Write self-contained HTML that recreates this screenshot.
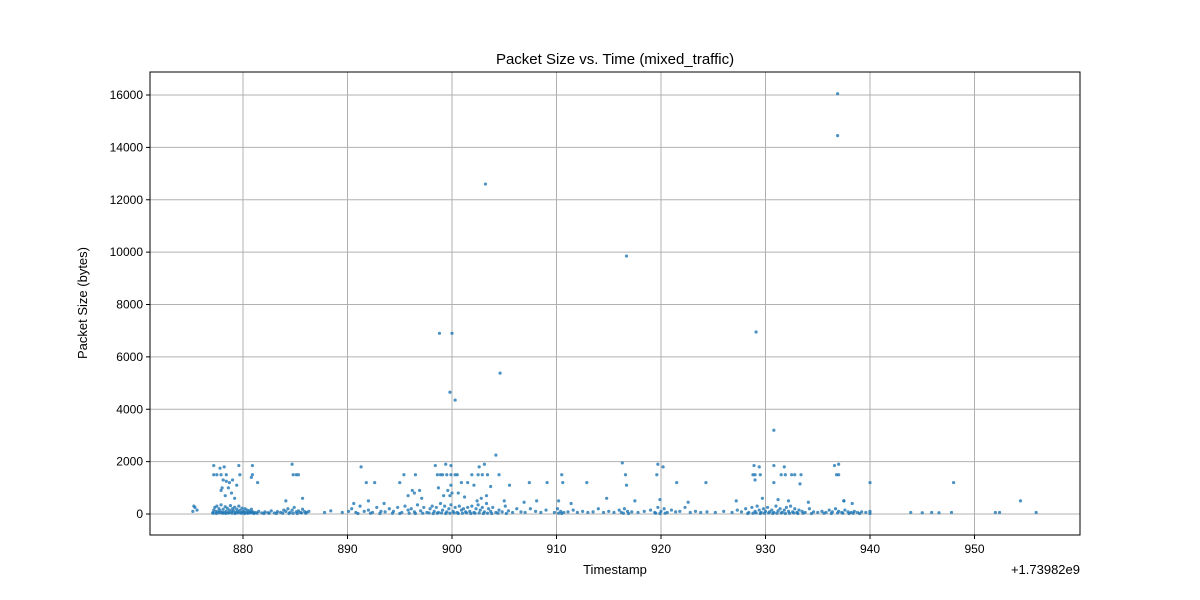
<!DOCTYPE html>
<html><head><meta charset="utf-8"><style>
body{margin:0;background:#fff;}
svg{display:block;font-family:"Liberation Sans","DejaVu Sans",sans-serif;}
</style></head><body>
<svg id="chart" width="1200" height="600">
<rect x="0" y="0" width="1200" height="600" fill="#fff"/>
<g id="grid"></g><g id="pts"></g><g id="axes"></g>
<text x="615" y="64" text-anchor="middle" font-size="15">Packet Size vs. Time (mixed_traffic)</text>
<text x="615" y="574" text-anchor="middle" font-size="13">Timestamp</text>
<text x="1080" y="574" text-anchor="end" font-size="13">+1.73982e9</text>
<text transform="translate(87,303) rotate(-90)" text-anchor="middle" font-size="13">Packet Size (bytes)</text>
</svg>
<script>
const xTicks=[880,890,900,910,920,930,940,950];
const yTicks=[0,2000,4000,6000,8000,10000,12000,14000,16000];
const outlierTimes=[936.9,936.9,903.2,916.7,898.8,900.0,929.1,899.8,900.3,904.6,930.8,904.2];
const outlierSizes=[16050,14450,12600,9850,6900,6900,6950,4650,4350,5380,3200,2250];
const topTimes=[877.2,877.8,878.2,879.6,880.9,884.7,891.3,898.4,899.4,899.9,
902.6,903.1,916.3,919.7,920.2,928.9,929.4,930.8,931.8,936.6,
937.0];
const topSizes=[1850,1750,1800,1850,1850,1900,1800,1850,1900,1850,
1800,1900,1950,1900,1800,1850,1800,1850,1800,1850,
1900];
const rowTimes=[877.2,877.5,877.9,878.4,879.7,880.9,884.8,885.1,885.3,
895.4,896.5,898.6,898.9,899.1,899.5,899.9,900.3,900.5,
901.9,902.5,902.9,903.4,904.5,910.5,916.6,919.6,928.8,
929.0,929.5,931.5,931.9,932.5,932.8,933.4,936.8,937.0];
const rowSizes=[1500,1500,1500,1500,1500,1500,1500,1500,1500,
1500,1500,1500,1500,1500,1500,1500,1500,1500,
1500,1500,1500,1500,1500,1500,1500,1500,1500,
1500,1500,1500,1500,1500,1500,1500,1500,1500];
const midTimes=[878.1,878.4,878.7,879.0,877.9,878.6,879.4,880.8,881.4,891.8,
892.6,895.0,896.9,898.7,899.9,900.9,901.5,902.1,903.7,905.5,
907.4,909.1,910.6,912.9,916.7,921.5,924.3,929.0,930.8,933.3,
940.0,948.0,878.3,878.9,879.2,884.1,885.7,890.6,892.0,893.5,
895.8,896.4,897.1,899.2,900.6,901.2,902.4,903.3,905.0,906.9,
908.1,910.2,911.4,914.8,917.5,919.9,922.6,927.2,929.7,931.2,
932.2,934.1,937.5,938.3,899.6,900.0,899.8,878.0,902.8,896.2];
const midSizes=[1300,1250,1200,1300,900,1000,1100,1400,1200,1200,
1200,1200,900,1000,1100,1200,1200,1100,1050,1100,
1200,1200,1200,1200,1100,1200,1200,1300,1200,1150,
1200,1200,700,800,600,500,600,400,500,400,
700,800,600,700,800,650,500,700,500,450,
500,500,400,600,500,550,450,500,600,550,
500,450,500,400,900,800,700,1000,600,900];
const lowTimes=[877.1,877.2,877.3,877.4,877.5,877.6,877.7,877.8,877.9,878.0,
878.1,878.2,878.3,878.4,878.5,878.6,878.7,878.8,878.9,879.0,
879.1,879.2,879.3,879.4,879.5,879.6,879.7,879.8,879.9,880.0,
880.1,880.2,880.3,880.4,880.5,880.6,880.7,880.8,880.9,881.0,
881.2,881.5,881.8,882.1,882.4,882.7,883.0,883.3,883.6,883.9,
884.1,884.3,884.5,884.7,884.9,885.1,885.3,885.5,885.7,885.9,
886.1,886.3,875.2,875.4,875.6,875.3,887.8,888.4,889.5,890.1,
890.4,890.8,891.2,891.6,892.0,892.4,892.8,893.2,893.6,894.0,
894.4,894.8,895.2,895.5,895.8,896.1,896.4,896.7,897.0,897.3,
897.6,897.9,898.1,898.3,898.5,898.7,898.9,899.1,899.3,899.5,
899.7,899.9,900.1,900.3,900.5,900.7,900.9,901.1,901.3,901.5,
901.7,901.9,902.1,902.3,902.5,902.7,902.9,903.1,903.3,903.5,
903.7,903.9,904.2,904.5,904.8,905.1,905.4,905.8,906.2,906.6,
907.0,907.5,908.0,908.5,909.0,909.8,910.1,910.4,910.7,911.1,
911.6,912.0,912.5,913.0,913.5,914.0,914.5,915.0,915.5,916.0,
916.2,916.5,916.8,917.2,917.8,918.4,919.0,919.4,919.7,920.0,
920.3,920.6,921.0,921.4,921.8,922.3,922.8,923.3,923.8,924.4,
925.2,926.0,926.8,927.3,927.7,928.1,928.4,928.7,929.0,929.2,
929.4,929.6,929.8,930.0,930.2,930.4,930.6,930.8,931.0,931.2,
931.4,931.6,931.8,932.0,932.2,932.4,932.6,932.8,933.0,933.2,
933.5,933.8,934.2,934.6,935.0,935.4,935.8,936.1,936.4,936.7,
937.0,937.3,937.6,937.9,938.2,938.5,938.8,939.2,939.6,940.0,
943.9,945.0,945.9,946.6,947.8,952.0,952.4,955.9,954.4,937.5];
const lowSizes=[50,150,250,100,300,80,200,120,350,60,
180,60,280,100,220,40,150,320,90,200,
120,260,60,180,90,300,140,50,220,100,
80,200,60,150,40,120,60,180,90,50,
60,100,40,80,50,120,40,90,60,150,
100,200,60,150,250,80,120,60,180,90,
60,100,100,250,150,300,60,120,60,100,
200,60,300,100,150,60,250,100,80,200,
100,250,60,300,150,200,80,350,120,250,
60,200,300,100,250,60,400,150,300,80,
200,350,100,250,60,300,150,200,80,250,
100,300,60,200,350,150,250,80,400,200,
100,250,60,150,80,300,120,60,200,80,
60,200,100,60,150,60,200,100,60,80,
150,60,100,60,80,200,60,100,60,150,
60,200,100,80,60,100,150,60,250,100,
200,60,150,80,100,250,60,100,60,80,
60,100,60,150,80,200,60,250,100,300,
150,60,200,100,250,80,150,60,300,120,
200,60,150,250,100,300,80,200,60,150,
100,60,200,80,60,100,60,150,80,200,
100,60,150,80,60,100,60,80,60,100,
60,50,60,50,60,60,60,60,500,500];
const baseTimes=[877.15,877.45,877.75,878.05,878.35,878.65,878.95,879.25,879.55,879.85,
880.15,880.45,880.75,881.05,881.35,882.0,882.5,883.2,883.8,884.4,
884.8,885.2,885.6,886.0,891.0,892.2,893.1,894.3,895.0,895.9,
896.5,897.2,897.8,898.2,898.6,899.0,899.4,899.8,900.2,900.6,
901.0,901.4,901.8,902.2,902.6,903.0,903.4,903.8,904.4,905.2,
910.2,910.5,916.4,916.9,919.5,919.9,920.4,928.3,928.8,929.1,
929.5,929.9,930.3,930.7,931.1,931.5,931.9,932.3,932.7,933.1,
933.6,934.4,935.6,936.3,936.9,937.4,938.0,938.4,939.0,940.0];
const baseSizes=[30,20,40,30,20,40,30,20,40,30,
20,30,40,20,30,20,30,20,30,20,
30,20,40,30,20,30,20,30,20,30,
20,30,40,20,30,40,20,30,40,20,
30,40,20,30,40,20,30,20,30,20,
30,20,30,20,30,20,30,20,30,40,
20,30,40,20,30,40,20,30,40,20,
30,20,30,20,40,30,20,30,20,20];
const times=[].concat(outlierTimes,topTimes,rowTimes,midTimes,lowTimes,baseTimes);
const sizes=[].concat(outlierSizes,topSizes,rowSizes,midSizes,lowSizes,baseSizes);
const L=150,R=1080,T=72,B=535;
const xs=v=>243+(v-880)*10.45;
const ys=v=>514-v*0.026187;
const NS='http://www.w3.org/2000/svg';
function mk(t,a,p){const e=document.createElementNS(NS,t);for(const k in a)e.setAttribute(k,a[k]);p.appendChild(e);return e;}
const grid=document.getElementById('grid'),axes=document.getElementById('axes'),pts=document.getElementById('pts');
xTicks.forEach(v=>{const x=xs(v);
const g=mk('line',{x1:x,x2:x,y1:T,y2:B,stroke:'#b0b0b0','stroke-width':1},grid);


mk('line',{x1:x,x2:x,y1:B,y2:B+4,stroke:'#000'},axes);
const t=mk('text',{x:x,y:B+18,'text-anchor':'middle','font-size':12},axes);t.textContent=v;

});
yTicks.forEach(v=>{const y=ys(v);
const g=mk('line',{x1:L,x2:R,y1:y,y2:y,stroke:'#b0b0b0','stroke-width':1},grid);


mk('line',{x1:L-4,x2:L,y1:y,y2:y,stroke:'#000'},axes);
const t=mk('text',{x:L-7,y:y+4,'text-anchor':'end','font-size':12},axes);t.textContent=v;

});
const fr=mk('rect',{x:L,y:T,width:R-L,height:B-T,fill:'none',stroke:'#000','stroke-width':1},axes);


const n=Math.min(times.length,sizes.length);
for(let i=0;i<n;i++){
const c=mk('circle',{cx:xs(times[i]),cy:ys(sizes[i]),r:1.6,fill:'#1f77b4','fill-opacity':0.8},pts);

}
</script>
</body></html>
